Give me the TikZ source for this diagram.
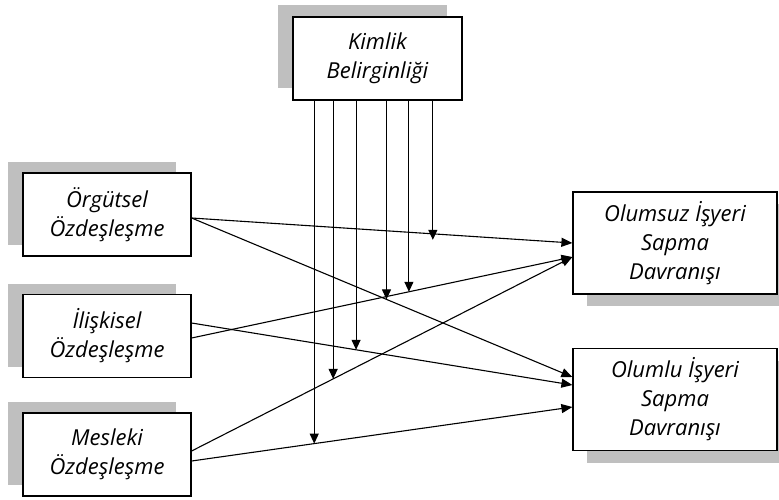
\documentclass[tikz,border=0pt]{standalone}
\usepackage{fontspec}
\setmainfont{Open Sans}
\usetikzlibrary{arrows.meta,shadows}

\begin{document}
\begin{tikzpicture}[x=1pt,y=-1pt,
  box/.style={draw=black, line width=1.2pt, fill=white, align=center,
    inner sep=0pt, font=\itshape\fontsize{22}{29}\selectfont},
  leftbox/.style={box, minimum width=168pt, minimum height=83pt,
    general shadow={fill=black!25, shadow xshift=-15pt, shadow yshift=11pt}},
  topbox/.style={box, minimum width=169pt, minimum height=83pt,
    general shadow={fill=black!25, shadow xshift=-15pt, shadow yshift=12pt}},
  rightbox/.style={box, minimum width=204pt, minimum height=102pt,
    general shadow={fill=black!25, shadow xshift=14pt, shadow yshift=-12pt}},
  link/.style={line width=1.1pt, -{Triangle[length=11pt,width=9pt]}},
  modarrow/.style={line width=1.1pt, -{Triangle[length=10pt,width=9pt]}}
]
\clip (0,0) rectangle (779,499);

% constructs
\node[topbox]   (kb)  at (377.5,58.5) {Kimlik\\Belirginliği};
\node[leftbox]  (org) at (107,214.5)  {Örgütsel\\Özdeşleşme};
\node[leftbox]  (ili) at (107,336)    {İlişkisel\\Özdeşleşme};
\node[leftbox]  (mes) at (107,454.5)  {Mesleki\\Özdeşleşme};
\node[rightbox] (neg) at (675,243)    {Olumsuz İşyeri\\Sapma\\Davranışı};
\node[rightbox] (pos) at (675,399.5)  {Olumlu İşyeri\\Sapma\\Davranışı};

% direct effects, with a point on each path for the moderator
\draw[link] ([yshift=-3.5pt]org.east) -- coordinate[pos=0.6335] (m1) (neg.west);
\draw[link] ([yshift=-3.5pt]org.east) -- coordinate[pos=0.5118] (m3) ([yshift=22.5pt]pos.west);
\draw[link] ([yshift=13pt]ili.east)   -- coordinate[pos=0.4319] (m4) ([yshift=14.5pt]pos.west);
\draw[link] ([yshift=-2pt]ili.east)   -- coordinate[pos=0.5707] (m2) ([yshift=-14pt]neg.west);
\draw[link] ([yshift=3.5pt]mes.east)  -- coordinate[pos=0.3717] (m5) ([yshift=-14pt]neg.west);
\draw[link] ([yshift=-6.5pt]mes.east) -- coordinate[pos=0.3220] (m6) ([yshift=-7.5pt]pos.west);

% moderating effects of identity salience
\draw[modarrow, shorten >=-6pt] (kb.south -| m1) -- (m1);
\draw[modarrow] (kb.south -| m2) -- (m2);
\draw[modarrow] (kb.south -| m3) -- (m3);
\draw[modarrow] (kb.south -| m4) -- (m4);
\draw[modarrow] (kb.south -| m5) -- (m5);
\draw[modarrow] (kb.south -| m6) -- (m6);
\end{tikzpicture}
\end{document}
